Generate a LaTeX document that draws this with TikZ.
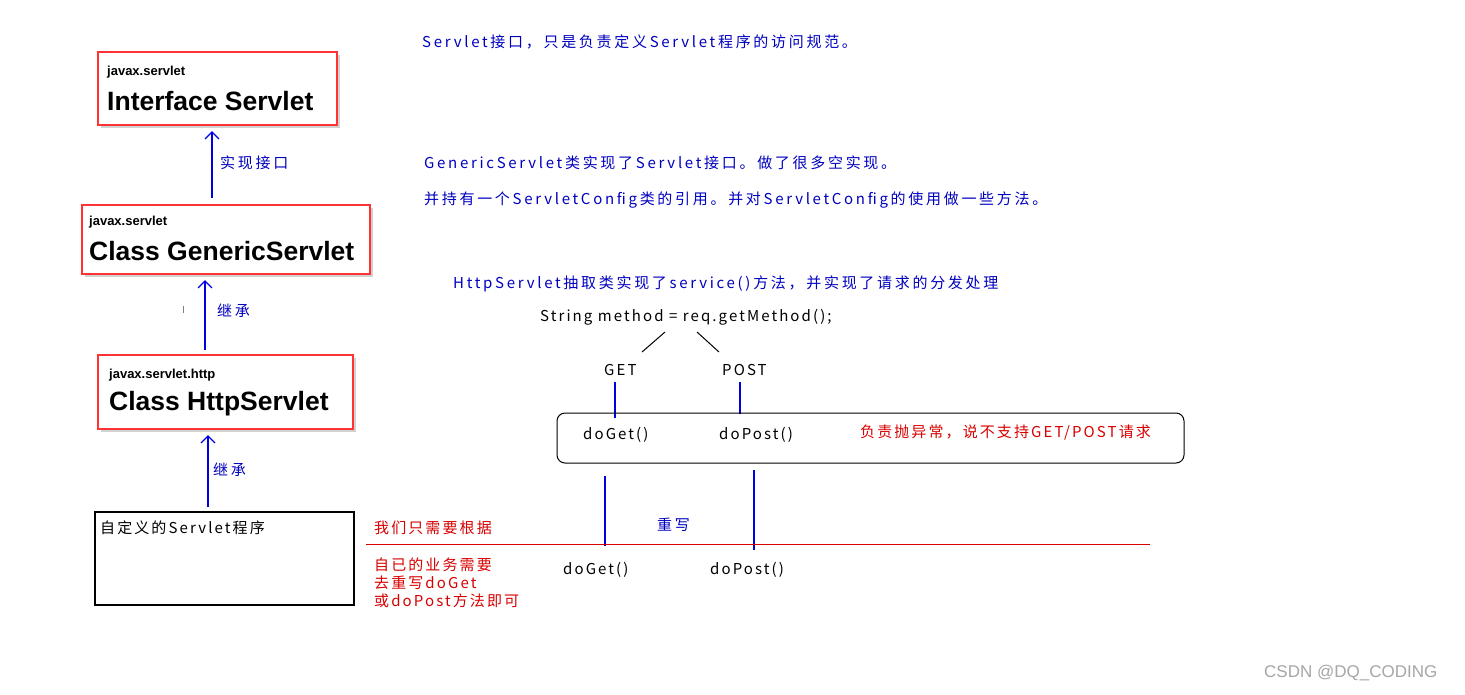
\documentclass[tikz,border=0pt]{standalone}
\usepackage{fontspec}
\setmainfont{Liberation Sans}
\newfontfamily\cjk[LetterSpace=14]{Noto Sans CJK SC}
\newfontfamily\cjkb[LetterSpace=18]{Noto Sans CJK SC}
\usetikzlibrary{shadows,arrows.meta}
\begin{document}
\begin{tikzpicture}[x=1pt,y=-1pt,
  cls/.style={draw=red!80,line width=1.2pt,fill=white,drop shadow={shadow xshift=2.5pt,shadow yshift=-2.5pt,opacity=0.35}},
  blu/.style={draw=blue!90!black,line width=1.4pt},
  arr/.style={blu,-{Straight Barb[length=7pt,width=14pt,line width=1.4pt]}},
  bt/.style={anchor=west,font=\cjkb\fontsize{15}{17}\selectfont,text=blue!75!black,inner sep=0},
  kt/.style={anchor=west,font=\cjk\fontsize{15}{17}\selectfont,text=black,inner sep=0},
  rt/.style={anchor=west,font=\cjk\fontsize{15}{17}\selectfont,text=red!85!black,inner sep=0},
  small/.style={anchor=west,font=\bfseries\fontsize{13}{15}\selectfont,inner sep=0},
  big/.style={anchor=west,font=\bfseries\fontsize{26.5}{29}\selectfont,inner sep=0}]
\useasboundingbox[fill=white] (0,0) rectangle (1465,694);
% class boxes
\draw[cls] (98,52) rectangle (337,125);
\node[small] (s1) at (107,72) {javax.servlet};
\node[big] (b1) at (107,101) {Interface Servlet};
\draw[cls] (82,205) rectangle (370,274);
\node[small] (s2) at (89,222) {javax.servlet};
\node[big] (b2) at (89,251) {Class GenericServlet};
\draw[cls] (98,355) rectangle (353,429);
\node[small] (s3) at (109,375) {javax.servlet.http};
\node[big] (b3) at (109,404) {Class HttpServlet};
\draw[line width=1.6pt] (95,512) rectangle (354,605);
\node[kt] (custom) at (100,528) {自定义的Servlet程序};
% arrows
\coordinate (a1s) at (212,198); \coordinate (a1e) at (212,131);
\draw[arr] (a1s) -- (a1e);
\node[bt] (l1) at (220,163) {实现接口};
\coordinate (a2s) at (205,350); \coordinate (a2e) at (205,280);
\draw[arr] (a2s) -- (a2e);
\node[bt] (l2) at (217,311) {继承};
\coordinate (a3s) at (208,507); \coordinate (a3e) at (208,435);
\draw[arr] (a3s) -- (a3e);
\node[bt] (l3) at (213,470) {继承};
\draw[gray] (183,306) -- (183,313);
% blue notes
\node[bt] (n1) at (422,42) {Servlet接口，只是负责定义Servlet程序的访问规范。};
\node[bt] (n2) at (424,163) {GenericServlet类实现了Servlet接口。做了很多空实现。};
\node[bt] (n3) at (424,200) {并持有一个ServletConfig类的引用。并对ServletConfig的使用做一些方法。};
\node[bt] (n4) at (453,284) {HttpServlet抽取类实现了service()方法，并实现了请求的分发处理};
\node[kt] (sm) at (540,317) {String method = req.getMethod();};
\draw[line width=1pt] (665,332) -- (642,352);
\draw[line width=1pt] (697,332) -- (719,352);
\node[kt] (get) at (604,370) {GET};
\node[kt] (post) at (722,370) {POST};
\draw[blu] (615,382) -- (615,418);
\draw[blu] (740,382) -- (740,414);
\draw[line width=1pt,rounded corners=8pt] (557,413) rectangle (1184,463);
\node[kt] (dg1) at (583,435) {doGet()};
\node[kt] (dp1) at (719,435) {doPost()};
\node[rt] (ex) at (860,433) {负责抛异常，说不支持GET/POST请求};
\draw[blu] (605,476) -- (605,546);
\draw[blu] (754,470) -- (754,550);
\node[bt] (ow) at (657,525) {重写};
\draw[red!85!black,line width=0.8pt] (366,544) -- (1150,544);
\node[rt] (r1) at (374,528) {我们只需要根据};
\node[rt] (r2) at (374,565) {自已的业务需要};
\node[rt] (r3) at (374,583) {去重写doGet};
\node[rt] (r4) at (374,601) {或doPost方法即可};
\node[kt] (dg2) at (563,570) {doGet()};
\node[kt] (dp2) at (710,570) {doPost()};
\node[anchor=west,inner sep=0,text=gray!70,font=\fontsize{17}{19}\selectfont] (wm) at (1264,673) {CSDN @DQ\_CODING};
\end{tikzpicture}
\end{document}
